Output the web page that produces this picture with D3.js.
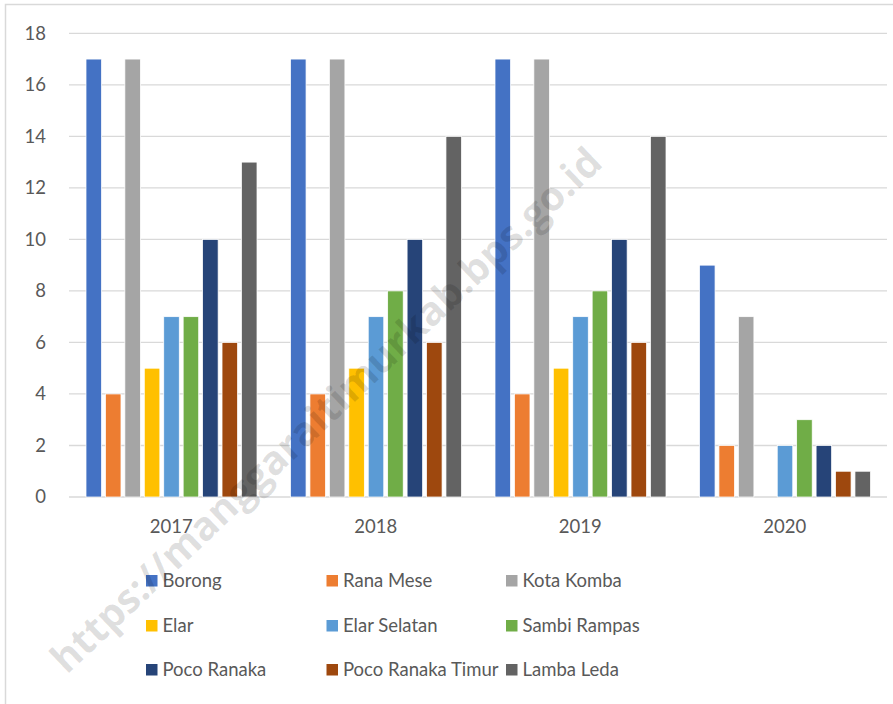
<!DOCTYPE html>
<html>
<head>
<meta charset="utf-8">
<script src="https://cdn.jsdelivr.net/npm/d3@7"></script>
<style>
  html, body { margin: 0; padding: 0; background: #fff; }
  svg { display: block; }
  text { font-family: Lato, "Open Sans", sans-serif; }
</style>
</head>
<body>
<svg id="chart" width="893" height="704"></svg>
<script>
const years = ["2017", "2018", "2019", "2020"];
const series = ["Borong", "Rana Mese", "Kota Komba", "Elar", "Elar Selatan",
                "Sambi Rampas", "Poco Ranaka", "Poco Ranaka Timur", "Lamba Leda"];
const colors = ["#4472C4", "#ED7D31", "#A5A5A5", "#FFC000", "#5B9BD5",
                "#70AD47", "#264478", "#9E480E", "#636363"];
const borong          = [17, 17, 17, 9];
const ranaMese        = [4, 4, 4, 2];
const kotaKomba       = [17, 17, 17, 7];
const elar            = [5, 5, 5, 0];
const elarSelatan     = [7, 7, 7, 2];
const sambiRampas     = [7, 8, 8, 3];
const pocoRanaka      = [10, 10, 10, 2];
const pocoRanakaTimur = [6, 6, 6, 1];
const lambaLeda       = [13, 14, 14, 1];
const yTicks = [0, 2, 4, 6, 8, 10, 12, 14, 16, 18];
const watermark = "https://manggaraitimurkab.bps.go.id";

const values = [borong, ranaMese, kotaKomba, elar, elarSelatan,
                sambiRampas, pocoRanaka, pocoRanakaTimur, lambaLeda];

const svg = d3.select("#chart");

// outer chart border
svg.append("rect")
  .attr("x", 5.5).attr("y", 4.5).attr("width", 900).attr("height", 720)
  .attr("fill", "none").attr("stroke", "#d9d9d9").attr("stroke-width", 1.5);

const plotL = 69, plotR = 887, plotT = 33.3, plotB = 497;

const y = d3.scaleLinear().domain([0, 18]).range([plotB, plotT]);
const x0 = d3.scaleBand().domain(years).range([plotL, plotR]).padding(0);
const gw = x0.bandwidth();
const x1 = d3.scaleBand().domain(series).range([17, gw - 16.5]).paddingInner(0.2).paddingOuter(0);

// gridlines
svg.append("g").selectAll("line").data(yTicks).join("line")
  .attr("x1", plotL).attr("x2", plotR)
  .attr("y1", d => y(d)).attr("y2", d => y(d))
  .attr("stroke", "#d9d9d9").attr("stroke-width", 1.3);

// y axis labels
const yAxis = d3.axisLeft(y).tickValues(yTicks).tickSize(0).tickPadding(0);
const gy = svg.append("g").attr("transform", `translate(46,0)`).call(yAxis);
gy.select(".domain").remove();
gy.selectAll("text").attr("fill", "#595959").style("font-size", "18.5px")
  .style("font-family", "Lato, sans-serif");

// bars
const groups = svg.append("g").selectAll("g").data(years).join("g")
  .attr("transform", d => `translate(${x0(d)},0)`);
groups.selectAll("rect")
  .data((yr, i) => series.map((s, j) => ({ s, j, v: values[j][i] })).filter(d => d.v > 0))
  .join("rect")
  .attr("x", d => x1(d.s))
  .attr("width", x1.bandwidth())
  .attr("y", d => y(d.v))
  .attr("height", d => y(0) - y(d.v))
  .attr("fill", d => colors[d.j])
  .attr("stroke", "#ffffff").attr("stroke-width", 0.75);

// x axis labels
const xAxis = d3.axisBottom(x0).tickSize(0).tickPadding(0);
const gx = svg.append("g").attr("transform", `translate(0,${plotB + 23})`).call(xAxis);
gx.select(".domain").remove();
gx.selectAll("text").attr("fill", "#595959").style("font-size", "18.5px")
  .style("font-family", "Lato, sans-serif");

// legend
const colX = [146, 326.5, 506];
const rowY = [581, 626, 670];
const legend = svg.append("g").selectAll("g").data(series).join("g")
  .attr("transform", (d, i) => `translate(${colX[i % 3]},${rowY[Math.floor(i / 3)]})`);
legend.append("rect").attr("x", 0).attr("y", -6).attr("width", 11.5).attr("height", 11.5)
  .attr("fill", (d, i) => colors[i]);
legend.append("text").attr("x", 16.5).attr("y", 0).attr("dy", "0.35em")
  .attr("fill", "#595959").style("font-size", "18.5px").text(d => d);

// watermark
svg.append("text")
  .attr("transform", "translate(326,410) rotate(-43.5)")
  .attr("text-anchor", "middle").attr("dy", "0.35em")
  .style("font-family", "'Open Sans', sans-serif").style("font-weight", "bold")
  .style("font-size", "40px")
  .attr("fill", "#000").attr("fill-opacity", 0.13)
  .text(watermark);
</script>
</body>
</html>
